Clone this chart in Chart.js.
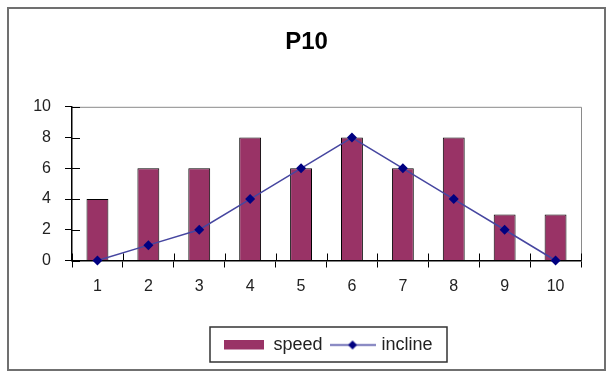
<!DOCTYPE html>
<html>
<head>
<meta charset="utf-8">
<script src="https://cdn.jsdelivr.net/npm/chart.js@4.4.0/dist/chart.umd.min.js"></script>
<style>
  html, body { margin: 0; padding: 0; background: #fff; }
</style>
</head>
<body>
<canvas id="chart" width="607" height="373"></canvas>
<script>
// data
const categories = ['1', '2', '3', '4', '5', '6', '7', '8', '9', '10'];
const speed = [4, 6, 6, 8, 6, 8, 6, 8, 3, 3];
const incline = [0, 1, 2, 4, 6, 8, 6, 4, 2, 0];
const yMin = 0;
const yMax = 10;
const yStep = 2;

const barColor = '#993366';
const lineColor = '#4646a0';
const markerColor = '#000080';
const fontFamily = 'Arial, "Liberation Sans", sans-serif';

// little canvases used as legend icons
function makeIcon(w, h, draw) {
  const c = document.createElement('canvas');
  c.width = w;
  c.height = h;
  draw(c.getContext('2d'), w, h);
  return c;
}
const speedIcon = makeIcon(40, 11, (ctx, w, h) => {
  ctx.fillStyle = barColor;
  ctx.fillRect(0, 0, 40, 10);
});
const inclineIcon = makeIcon(46, 11, (ctx, w, h) => {
  ctx.strokeStyle = lineColor;
  ctx.lineWidth = 1.5;
  ctx.beginPath();
  ctx.moveTo(0, 5.5);
  ctx.lineTo(w, 5.5);
  ctx.stroke();
  ctx.fillStyle = markerColor;
  ctx.beginPath();
  ctx.moveTo(23, 1);
  ctx.lineTo(27.5, 5.5);
  ctx.lineTo(23, 10);
  ctx.lineTo(18.5, 5.5);
  ctx.closePath();
  ctx.fill();
});

// outer frame, plot border, inner tick halves, legend box
const decorations = {
  id: 'decorations',
  afterLayout(chart) {
    const lg = chart.legend;
    lg.left = 210;
    lg.right = 447;
    lg.width = lg.right - lg.left;
    // centre the title on the whole frame
    const tb = chart.titleBlock;
    tb.left = 26;
    tb.right = 587;
    tb.width = tb.right - tb.left;
  },
  beforeDraw(chart) {
    const { ctx, width, height } = chart;
    ctx.save();
    ctx.fillStyle = '#fff';
    ctx.fillRect(0, 0, width, height);
    ctx.strokeStyle = '#707070';
    ctx.lineWidth = 2;
    ctx.strokeRect(8, 8, 597, 362);
    ctx.restore();
  },
  beforeDatasetsDraw(chart) {
    const { ctx, chartArea } = chart;
    ctx.save();
    ctx.strokeStyle = '#8a8a8a';
    ctx.lineWidth = 1;
    ctx.beginPath();
    ctx.moveTo(chartArea.left, chartArea.top + 0.5);
    ctx.lineTo(chartArea.right + 0.5, chartArea.top + 0.5);
    ctx.lineTo(chartArea.right + 0.5, chartArea.bottom);
    ctx.stroke();
    ctx.restore();
  },
  afterDraw(chart) {
    const { ctx, chartArea, scales: { x, y } } = chart;
    ctx.save();
    ctx.strokeStyle = '#000';
    ctx.lineWidth = 1;
    ctx.beginPath();
    y.ticks.forEach(t => {
      const py = Math.round(y.getPixelForValue(t.value)) + 0.5;
      ctx.moveTo(chartArea.left, py);
      ctx.lineTo(chartArea.left + 8, py);
    });
    for (let i = 0; i <= categories.length; i++) {
      const px = Math.round(x.getPixelForValue(i - 0.5)) + 0.5;
      ctx.moveTo(px, chartArea.bottom);
      ctx.lineTo(px, chartArea.bottom - 7);
    }
    ctx.stroke();

    const lg = chart.legend;
    ctx.strokeStyle = '#333';
    ctx.lineWidth = 1.5;
    ctx.strokeRect(lg.left, lg.top + 1, lg.width, lg.height - 3);
    ctx.restore();
  }
};

const ctx = document.getElementById('chart').getContext('2d');
new Chart(ctx, {
  type: 'bar',
  data: {
    labels: categories,
    datasets: [
      {
        type: 'line',
        label: 'incline',
        data: incline,
        borderColor: lineColor,
        borderWidth: 1.5,
        pointStyle: 'rectRot',
        pointRadius: 5,
        pointBackgroundColor: markerColor,
        pointBorderColor: markerColor,
        pointBorderWidth: 0,
        tension: 0,
        clip: false,
        order: 0
      },
      {
        label: 'speed',
        data: speed,
        backgroundColor: barColor,
        borderColor: '#000',
        borderWidth: 1,
        barPercentage: 0.43,
        categoryPercentage: 1,
        order: 1
      }
    ]
  },
  options: {
    responsive: false,
    animation: false,
    devicePixelRatio: 1,
    layout: {
      padding: { left: 0, right: 26, top: 0, bottom: 9 }
    },
    plugins: {
      title: {
        display: true,
        text: 'P10',
        color: '#000',
        font: { family: fontFamily, size: 24, weight: 'bold' },
        padding: { top: 28, bottom: 50 }
      },
      legend: {
        position: 'bottom',
        labels: {
          color: '#222',
          font: { family: fontFamily, size: 18 },
          padding: 10,
          usePointStyle: true,
          pointStyleWidth: 40,
          generateLabels(chart) {
            const items = Chart.defaults.plugins.legend.labels.generateLabels(chart);
            items.forEach(it => {
              it.pointStyle = it.text === 'speed' ? speedIcon : inclineIcon;
            });
            // speed first, like the original
            return items.sort((a, b) => (a.text === 'speed' ? -1 : 1));
          }
        }
      },
      tooltip: { enabled: false }
    },
    scales: {
      x: {
        offset: true,
        grid: {
          offset: true,
          drawOnChartArea: false,
          color: '#000',
          tickLength: 7
        },
        border: { color: '#000', width: 1.5 },
        ticks: {
          color: '#222',
          padding: 9,
          font: { family: fontFamily, size: 16 }
        },
        afterFit(scale) { scale.height = 65.5; }
      },
      y: {
        min: yMin,
        max: yMax,
        grid: {
          drawOnChartArea: false,
          color: '#000',
          tickLength: 7
        },
        border: { color: '#000', width: 1.5 },
        ticks: {
          stepSize: yStep,
          color: '#222',
          padding: 14,
          font: { family: fontFamily, size: 16 }
        },
        afterFit(scale) { scale.width = 72; }
      }
    }
  },
  plugins: [decorations]
});
</script>
</body>
</html>
